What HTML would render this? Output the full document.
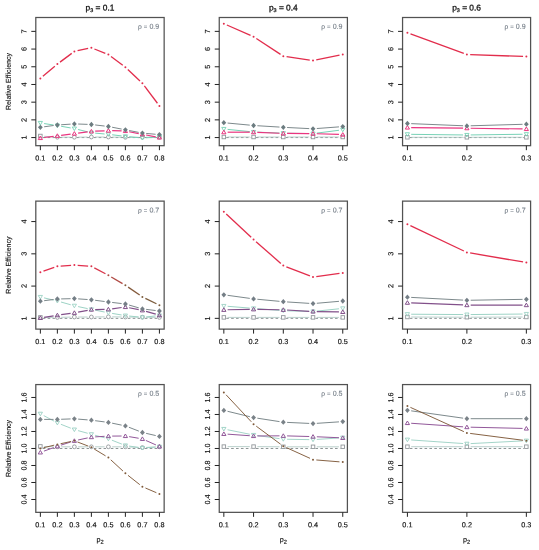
<!DOCTYPE html>
<html><head><meta charset="utf-8"><style>
html,body{margin:0;padding:0;background:#fff;}
svg{display:block;font-family:"Liberation Sans", sans-serif;will-change:transform;filter:blur(0.45px);}
text{fill:#111;stroke:#111;stroke-width:0.15px;}
text.ti{stroke-width:0.28px;}
text.yl{stroke-width:0.15px;}
text.rho{fill:#737c86;stroke:#737c86;stroke-width:0.1px;}
</style></head><body>
<svg width="539" height="550" viewBox="0 0 539 550"><rect width="539" height="550" fill="#fff"/><g><line x1="42.76" y1="137.57" x2="54.97" y2="137.57" stroke="#7f8788" stroke-width="0.9" stroke-dasharray="2.6,2.3"/><line x1="59.77" y1="137.57" x2="71.97" y2="137.57" stroke="#7f8788" stroke-width="0.9" stroke-dasharray="2.6,2.3"/><line x1="76.77" y1="137.57" x2="88.98" y2="137.57" stroke="#7f8788" stroke-width="0.9" stroke-dasharray="2.6,2.3"/><line x1="93.78" y1="137.57" x2="105.99" y2="137.57" stroke="#7f8788" stroke-width="0.9" stroke-dasharray="2.6,2.3"/><line x1="110.79" y1="137.57" x2="122.99" y2="137.57" stroke="#7f8788" stroke-width="0.9" stroke-dasharray="2.6,2.3"/><line x1="127.80" y1="137.57" x2="140.00" y2="137.57" stroke="#7f8788" stroke-width="0.9" stroke-dasharray="2.6,2.3"/><line x1="144.80" y1="137.57" x2="157.01" y2="137.57" stroke="#7f8788" stroke-width="0.9" stroke-dasharray="2.6,2.3"/><line x1="44.15" y1="136.27" x2="53.58" y2="136.93" stroke="#a8c4bf" stroke-width="0.8"/><line x1="61.17" y1="137.20" x2="70.57" y2="137.20" stroke="#a8c4bf" stroke-width="0.8"/><line x1="78.17" y1="137.16" x2="87.58" y2="137.04" stroke="#a8c4bf" stroke-width="0.8"/><line x1="95.18" y1="137.00" x2="104.59" y2="137.00" stroke="#a8c4bf" stroke-width="0.8"/><line x1="112.19" y1="137.07" x2="121.60" y2="137.23" stroke="#a8c4bf" stroke-width="0.8"/><line x1="129.19" y1="137.28" x2="138.60" y2="137.22" stroke="#a8c4bf" stroke-width="0.8"/><line x1="146.20" y1="137.20" x2="155.61" y2="137.20" stroke="#a8c4bf" stroke-width="0.8"/><rect x="38.61" y="134.25" width="3.5" height="3.5" fill="none" stroke="#92979b" stroke-width="0.9"/><circle cx="57.37" cy="137.20" r="1.9" fill="none" stroke="#92979b" stroke-width="0.9"/><circle cx="74.37" cy="137.20" r="1.9" fill="none" stroke="#92979b" stroke-width="0.9"/><circle cx="91.38" cy="137.00" r="1.9" fill="none" stroke="#92979b" stroke-width="0.9"/><circle cx="108.39" cy="137.00" r="1.9" fill="none" stroke="#92979b" stroke-width="0.9"/><circle cx="125.39" cy="137.30" r="1.9" fill="none" stroke="#92979b" stroke-width="0.9"/><circle cx="142.40" cy="137.20" r="1.9" fill="none" stroke="#92979b" stroke-width="0.9"/><circle cx="159.41" cy="137.20" r="1.9" fill="none" stroke="#92979b" stroke-width="0.9"/><line x1="44.12" y1="123.57" x2="53.61" y2="125.03" stroke="#78d2b6" stroke-width="1.0"/><line x1="61.11" y1="126.26" x2="70.63" y2="127.94" stroke="#78d2b6" stroke-width="1.0"/><line x1="78.06" y1="129.51" x2="87.69" y2="131.89" stroke="#78d2b6" stroke-width="1.0"/><line x1="95.17" y1="133.13" x2="104.60" y2="133.97" stroke="#78d2b6" stroke-width="1.0"/><line x1="112.16" y1="134.77" x2="121.62" y2="135.93" stroke="#78d2b6" stroke-width="1.0"/><line x1="129.18" y1="136.76" x2="138.62" y2="137.64" stroke="#78d2b6" stroke-width="1.0"/><line x1="146.20" y1="137.78" x2="155.62" y2="137.22" stroke="#78d2b6" stroke-width="1.0"/><path d="M38.26 121.42L42.46 121.42L40.36 125.00Z" fill="none" stroke="#78d2b6" stroke-width="0.9"/><path d="M55.27 124.02L59.47 124.02L57.37 127.59Z" fill="none" stroke="#78d2b6" stroke-width="0.9"/><path d="M72.27 127.02L76.47 127.02L74.37 130.59Z" fill="none" stroke="#78d2b6" stroke-width="0.9"/><path d="M89.28 131.23L93.48 131.23L91.38 134.80Z" fill="none" stroke="#78d2b6" stroke-width="0.9"/><path d="M106.29 132.73L110.49 132.73L108.39 136.30Z" fill="none" stroke="#78d2b6" stroke-width="0.9"/><path d="M123.30 134.83L127.49 134.83L125.39 138.40Z" fill="none" stroke="#78d2b6" stroke-width="0.9"/><path d="M140.30 136.43L144.50 136.43L142.40 140.00Z" fill="none" stroke="#78d2b6" stroke-width="0.9"/><path d="M157.31 135.43L161.51 135.43L159.41 139.00Z" fill="none" stroke="#78d2b6" stroke-width="0.9"/><line x1="44.13" y1="137.51" x2="53.60" y2="136.29" stroke="#ea3580" stroke-width="1.2"/><line x1="61.14" y1="135.31" x2="70.61" y2="134.09" stroke="#ea3580" stroke-width="1.2"/><line x1="78.14" y1="133.11" x2="87.61" y2="131.89" stroke="#ea3580" stroke-width="1.2"/><line x1="95.18" y1="131.22" x2="104.59" y2="130.78" stroke="#ea3580" stroke-width="1.2"/><line x1="112.19" y1="130.69" x2="121.60" y2="130.91" stroke="#ea3580" stroke-width="1.2"/><line x1="129.13" y1="131.72" x2="138.67" y2="133.58" stroke="#ea3580" stroke-width="1.2"/><line x1="146.14" y1="135.00" x2="155.67" y2="136.80" stroke="#ea3580" stroke-width="1.2"/><path d="M38.26 139.57L42.46 139.57L40.36 136.00Z" fill="none" stroke="#ea3580" stroke-width="1.0"/><path d="M55.27 137.38L59.47 137.38L57.37 133.81Z" fill="none" stroke="#ea3580" stroke-width="1.0"/><path d="M72.27 135.17L76.47 135.17L74.37 131.60Z" fill="none" stroke="#ea3580" stroke-width="1.0"/><path d="M89.28 132.97L93.48 132.97L91.38 129.41Z" fill="none" stroke="#ea3580" stroke-width="1.0"/><path d="M106.29 132.17L110.49 132.17L108.39 128.60Z" fill="none" stroke="#ea3580" stroke-width="1.0"/><path d="M123.30 132.57L127.49 132.57L125.39 129.00Z" fill="none" stroke="#ea3580" stroke-width="1.0"/><path d="M140.30 135.88L144.50 135.88L142.40 132.31Z" fill="none" stroke="#ea3580" stroke-width="1.0"/><path d="M157.31 139.07L161.51 139.07L159.41 135.50Z" fill="none" stroke="#ea3580" stroke-width="1.0"/><line x1="44.13" y1="126.79" x2="53.60" y2="125.51" stroke="#7d898c" stroke-width="1.0"/><line x1="61.16" y1="124.75" x2="70.58" y2="124.15" stroke="#7d898c" stroke-width="1.0"/><line x1="78.17" y1="124.03" x2="87.58" y2="124.37" stroke="#7d898c" stroke-width="1.0"/><line x1="95.15" y1="124.94" x2="104.61" y2="126.06" stroke="#7d898c" stroke-width="1.0"/><line x1="112.12" y1="127.22" x2="121.66" y2="129.08" stroke="#7d898c" stroke-width="1.0"/><line x1="129.13" y1="130.52" x2="138.67" y2="132.38" stroke="#7d898c" stroke-width="1.0"/><line x1="146.19" y1="133.43" x2="155.62" y2="134.27" stroke="#7d898c" stroke-width="1.0"/><path d="M40.36 124.65L42.76 127.30L40.36 129.95L37.96 127.30Z" fill="#6c7c80"/><path d="M57.37 122.35L59.77 125.00L57.37 127.65L54.97 125.00Z" fill="#6c7c80"/><path d="M74.37 121.25L76.77 123.90L74.37 126.55L71.97 123.90Z" fill="#6c7c80"/><path d="M91.38 121.85L93.78 124.50L91.38 127.15L88.98 124.50Z" fill="#6c7c80"/><path d="M108.39 123.85L110.79 126.50L108.39 129.15L105.99 126.50Z" fill="#6c7c80"/><path d="M125.39 127.15L127.80 129.80L125.39 132.45L122.99 129.80Z" fill="#6c7c80"/><path d="M142.40 130.45L144.80 133.10L142.40 135.75L140.00 133.10Z" fill="#6c7c80"/><path d="M159.41 131.95L161.81 134.60L159.41 137.25L157.01 134.60Z" fill="#6c7c80"/><line x1="42.89" y1="76.28" x2="54.84" y2="66.22" stroke="#e22d4c" stroke-width="1.3"/><line x1="60.01" y1="62.13" x2="71.73" y2="53.37" stroke="#e22d4c" stroke-width="1.3"/><line x1="77.60" y1="50.72" x2="88.15" y2="48.48" stroke="#e22d4c" stroke-width="1.3"/><line x1="94.45" y1="49.01" x2="105.32" y2="53.29" stroke="#e22d4c" stroke-width="1.3"/><line x1="111.02" y1="56.48" x2="122.76" y2="65.32" stroke="#e22d4c" stroke-width="1.3"/><line x1="127.81" y1="69.55" x2="139.99" y2="80.95" stroke="#e22d4c" stroke-width="1.3"/><line x1="144.38" y1="85.84" x2="157.43" y2="103.26" stroke="#e22d4c" stroke-width="1.3"/><circle cx="40.36" cy="78.40" r="1.0" fill="#e22d4c"/><circle cx="57.37" cy="64.10" r="1.0" fill="#e22d4c"/><circle cx="74.37" cy="51.40" r="1.0" fill="#e22d4c"/><circle cx="91.38" cy="47.80" r="1.0" fill="#e22d4c"/><circle cx="108.39" cy="54.50" r="1.0" fill="#e22d4c"/><circle cx="125.39" cy="67.30" r="1.0" fill="#e22d4c"/><circle cx="142.40" cy="83.20" r="1.0" fill="#e22d4c"/><circle cx="159.41" cy="105.90" r="1.0" fill="#e22d4c"/><rect x="35.8" y="17.5" width="128.35" height="128.18" fill="none" stroke="#525252" stroke-width="1.25"/><line x1="40.36" y1="145.68" x2="40.36" y2="150.18" stroke="#222" stroke-width="1.0"/><text transform="translate(40.36,160.48) rotate(0.04)" font-size="7.3" text-anchor="middle">0.1</text><line x1="57.37" y1="145.68" x2="57.37" y2="150.18" stroke="#222" stroke-width="1.0"/><text transform="translate(57.37,160.48) rotate(0.04)" font-size="7.3" text-anchor="middle">0.2</text><line x1="74.37" y1="145.68" x2="74.37" y2="150.18" stroke="#222" stroke-width="1.0"/><text transform="translate(74.37,160.48) rotate(0.04)" font-size="7.3" text-anchor="middle">0.3</text><line x1="91.38" y1="145.68" x2="91.38" y2="150.18" stroke="#222" stroke-width="1.0"/><text transform="translate(91.38,160.48) rotate(0.04)" font-size="7.3" text-anchor="middle">0.4</text><line x1="108.39" y1="145.68" x2="108.39" y2="150.18" stroke="#222" stroke-width="1.0"/><text transform="translate(108.39,160.48) rotate(0.04)" font-size="7.3" text-anchor="middle">0.5</text><line x1="125.39" y1="145.68" x2="125.39" y2="150.18" stroke="#222" stroke-width="1.0"/><text transform="translate(125.39,160.48) rotate(0.04)" font-size="7.3" text-anchor="middle">0.6</text><line x1="142.40" y1="145.68" x2="142.40" y2="150.18" stroke="#222" stroke-width="1.0"/><text transform="translate(142.40,160.48) rotate(0.04)" font-size="7.3" text-anchor="middle">0.7</text><line x1="159.41" y1="145.68" x2="159.41" y2="150.18" stroke="#222" stroke-width="1.0"/><text transform="translate(159.41,160.48) rotate(0.04)" font-size="7.3" text-anchor="middle">0.8</text><line x1="31.299999999999997" y1="137.57" x2="35.8" y2="137.57" stroke="#222" stroke-width="1.0"/><text transform="translate(26.60,137.57) rotate(-89.96)" font-size="7.3" text-anchor="middle" class="yl">1</text><line x1="31.299999999999997" y1="119.87" x2="35.8" y2="119.87" stroke="#222" stroke-width="1.0"/><text transform="translate(26.60,119.87) rotate(-89.96)" font-size="7.3" text-anchor="middle" class="yl">2</text><line x1="31.299999999999997" y1="102.17" x2="35.8" y2="102.17" stroke="#222" stroke-width="1.0"/><text transform="translate(26.60,102.17) rotate(-89.96)" font-size="7.3" text-anchor="middle" class="yl">3</text><line x1="31.299999999999997" y1="84.47" x2="35.8" y2="84.47" stroke="#222" stroke-width="1.0"/><text transform="translate(26.60,84.47) rotate(-89.96)" font-size="7.3" text-anchor="middle" class="yl">4</text><line x1="31.299999999999997" y1="66.77" x2="35.8" y2="66.77" stroke="#222" stroke-width="1.0"/><text transform="translate(26.60,66.77) rotate(-89.96)" font-size="7.3" text-anchor="middle" class="yl">5</text><line x1="31.299999999999997" y1="49.07" x2="35.8" y2="49.07" stroke="#222" stroke-width="1.0"/><text transform="translate(26.60,49.07) rotate(-89.96)" font-size="7.3" text-anchor="middle" class="yl">6</text><line x1="31.299999999999997" y1="31.37" x2="35.8" y2="31.37" stroke="#222" stroke-width="1.0"/><text transform="translate(26.60,31.37) rotate(-89.96)" font-size="7.3" text-anchor="middle" class="yl">7</text><text transform="translate(139.95,28.80) rotate(0.04)" font-size="6.6" text-anchor="middle" class="rho">ρ</text><text transform="translate(145.55,28.80) rotate(0.04)" font-size="6.0" text-anchor="middle" class="rho">=</text><text transform="translate(159.25,28.80) rotate(0.04)" font-size="7.1" text-anchor="end" class="rho">0.9</text></g><g><line x1="226.24" y1="137.57" x2="251.17" y2="137.57" stroke="#7f8788" stroke-width="0.9" stroke-dasharray="2.6,2.3"/><line x1="255.97" y1="137.57" x2="280.90" y2="137.57" stroke="#7f8788" stroke-width="0.9" stroke-dasharray="2.6,2.3"/><line x1="285.70" y1="137.57" x2="310.63" y2="137.57" stroke="#7f8788" stroke-width="0.9" stroke-dasharray="2.6,2.3"/><line x1="315.43" y1="137.57" x2="340.36" y2="137.57" stroke="#7f8788" stroke-width="0.9" stroke-dasharray="2.6,2.3"/><line x1="227.64" y1="137.00" x2="249.77" y2="137.00" stroke="#a8c4bf" stroke-width="0.8"/><line x1="257.37" y1="137.00" x2="279.50" y2="137.00" stroke="#a8c4bf" stroke-width="0.8"/><line x1="287.10" y1="137.00" x2="309.23" y2="137.00" stroke="#a8c4bf" stroke-width="0.8"/><line x1="316.83" y1="137.00" x2="338.96" y2="137.00" stroke="#a8c4bf" stroke-width="0.8"/><rect x="222.09" y="135.25" width="3.5" height="3.5" fill="none" stroke="#92979b" stroke-width="0.9"/><rect x="251.82" y="135.25" width="3.5" height="3.5" fill="none" stroke="#92979b" stroke-width="0.9"/><rect x="281.55" y="135.25" width="3.5" height="3.5" fill="none" stroke="#92979b" stroke-width="0.9"/><rect x="311.28" y="135.25" width="3.5" height="3.5" fill="none" stroke="#92979b" stroke-width="0.9"/><rect x="341.01" y="135.25" width="3.5" height="3.5" fill="none" stroke="#92979b" stroke-width="0.9"/><line x1="227.62" y1="129.38" x2="249.79" y2="131.62" stroke="#78d2b6" stroke-width="1.0"/><line x1="257.37" y1="132.15" x2="279.50" y2="133.05" stroke="#78d2b6" stroke-width="1.0"/><line x1="287.10" y1="133.25" x2="309.23" y2="133.55" stroke="#78d2b6" stroke-width="1.0"/><line x1="316.80" y1="133.12" x2="338.99" y2="130.28" stroke="#78d2b6" stroke-width="1.0"/><path d="M221.74 127.42L225.94 127.42L223.84 131.00Z" fill="none" stroke="#78d2b6" stroke-width="0.9"/><path d="M251.47 130.43L255.67 130.43L253.57 134.00Z" fill="none" stroke="#78d2b6" stroke-width="0.9"/><path d="M281.20 131.62L285.40 131.62L283.30 135.19Z" fill="none" stroke="#78d2b6" stroke-width="0.9"/><path d="M310.93 132.03L315.13 132.03L313.03 135.59Z" fill="none" stroke="#78d2b6" stroke-width="0.9"/><path d="M340.66 128.23L344.86 128.23L342.76 131.80Z" fill="none" stroke="#78d2b6" stroke-width="0.9"/><line x1="227.64" y1="132.20" x2="249.77" y2="132.20" stroke="#ea3580" stroke-width="1.2"/><line x1="257.37" y1="132.35" x2="279.50" y2="133.25" stroke="#ea3580" stroke-width="1.2"/><line x1="287.10" y1="133.43" x2="309.23" y2="133.57" stroke="#ea3580" stroke-width="1.2"/><line x1="316.83" y1="133.73" x2="338.96" y2="134.47" stroke="#ea3580" stroke-width="1.2"/><path d="M221.74 133.77L225.94 133.77L223.84 130.20Z" fill="none" stroke="#ea3580" stroke-width="1.0"/><path d="M251.47 133.77L255.67 133.77L253.57 130.20Z" fill="none" stroke="#ea3580" stroke-width="1.0"/><path d="M281.20 134.97L285.40 134.97L283.30 131.41Z" fill="none" stroke="#ea3580" stroke-width="1.0"/><path d="M310.93 135.17L315.13 135.17L313.03 131.60Z" fill="none" stroke="#ea3580" stroke-width="1.0"/><path d="M340.66 136.17L344.86 136.17L342.76 132.60Z" fill="none" stroke="#ea3580" stroke-width="1.0"/><line x1="227.62" y1="123.06" x2="249.79" y2="125.14" stroke="#7d898c" stroke-width="1.0"/><line x1="257.36" y1="125.73" x2="279.51" y2="127.07" stroke="#7d898c" stroke-width="1.0"/><line x1="287.10" y1="127.49" x2="309.23" y2="128.61" stroke="#7d898c" stroke-width="1.0"/><line x1="316.82" y1="128.52" x2="338.97" y2="126.88" stroke="#7d898c" stroke-width="1.0"/><path d="M223.84 120.05L226.24 122.70L223.84 125.35L221.44 122.70Z" fill="#6c7c80"/><path d="M253.57 122.85L255.97 125.50L253.57 128.15L251.17 125.50Z" fill="#6c7c80"/><path d="M283.30 124.65L285.70 127.30L283.30 129.95L280.90 127.30Z" fill="#6c7c80"/><path d="M313.03 126.15L315.43 128.80L313.03 131.45L310.63 128.80Z" fill="#6c7c80"/><path d="M342.76 123.95L345.16 126.60L342.76 129.25L340.36 126.60Z" fill="#6c7c80"/><line x1="226.86" y1="25.02" x2="250.55" y2="35.38" stroke="#e22d4c" stroke-width="1.3"/><line x1="256.33" y1="38.51" x2="280.54" y2="54.39" stroke="#e22d4c" stroke-width="1.3"/><line x1="286.57" y1="56.67" x2="309.76" y2="60.03" stroke="#e22d4c" stroke-width="1.3"/><line x1="316.26" y1="59.85" x2="339.53" y2="55.15" stroke="#e22d4c" stroke-width="1.3"/><circle cx="223.84" cy="23.70" r="1.0" fill="#e22d4c"/><circle cx="253.57" cy="36.70" r="1.0" fill="#e22d4c"/><circle cx="283.30" cy="56.20" r="1.0" fill="#e22d4c"/><circle cx="313.03" cy="60.50" r="1.0" fill="#e22d4c"/><circle cx="342.76" cy="54.50" r="1.0" fill="#e22d4c"/><rect x="219.25" y="17.5" width="128.15" height="128.18" fill="none" stroke="#525252" stroke-width="1.25"/><line x1="223.84" y1="145.68" x2="223.84" y2="150.18" stroke="#222" stroke-width="1.0"/><text transform="translate(223.84,160.48) rotate(0.04)" font-size="7.3" text-anchor="middle">0.1</text><line x1="253.57" y1="145.68" x2="253.57" y2="150.18" stroke="#222" stroke-width="1.0"/><text transform="translate(253.57,160.48) rotate(0.04)" font-size="7.3" text-anchor="middle">0.2</text><line x1="283.30" y1="145.68" x2="283.30" y2="150.18" stroke="#222" stroke-width="1.0"/><text transform="translate(283.30,160.48) rotate(0.04)" font-size="7.3" text-anchor="middle">0.3</text><line x1="313.03" y1="145.68" x2="313.03" y2="150.18" stroke="#222" stroke-width="1.0"/><text transform="translate(313.03,160.48) rotate(0.04)" font-size="7.3" text-anchor="middle">0.4</text><line x1="342.76" y1="145.68" x2="342.76" y2="150.18" stroke="#222" stroke-width="1.0"/><text transform="translate(342.76,160.48) rotate(0.04)" font-size="7.3" text-anchor="middle">0.5</text><line x1="214.75" y1="137.57" x2="219.25" y2="137.57" stroke="#222" stroke-width="1.0"/><text transform="translate(210.05,137.57) rotate(-89.96)" font-size="7.3" text-anchor="middle" class="yl">1</text><line x1="214.75" y1="119.87" x2="219.25" y2="119.87" stroke="#222" stroke-width="1.0"/><text transform="translate(210.05,119.87) rotate(-89.96)" font-size="7.3" text-anchor="middle" class="yl">2</text><line x1="214.75" y1="102.17" x2="219.25" y2="102.17" stroke="#222" stroke-width="1.0"/><text transform="translate(210.05,102.17) rotate(-89.96)" font-size="7.3" text-anchor="middle" class="yl">3</text><line x1="214.75" y1="84.47" x2="219.25" y2="84.47" stroke="#222" stroke-width="1.0"/><text transform="translate(210.05,84.47) rotate(-89.96)" font-size="7.3" text-anchor="middle" class="yl">4</text><line x1="214.75" y1="66.77" x2="219.25" y2="66.77" stroke="#222" stroke-width="1.0"/><text transform="translate(210.05,66.77) rotate(-89.96)" font-size="7.3" text-anchor="middle" class="yl">5</text><line x1="214.75" y1="49.07" x2="219.25" y2="49.07" stroke="#222" stroke-width="1.0"/><text transform="translate(210.05,49.07) rotate(-89.96)" font-size="7.3" text-anchor="middle" class="yl">6</text><line x1="214.75" y1="31.37" x2="219.25" y2="31.37" stroke="#222" stroke-width="1.0"/><text transform="translate(210.05,31.37) rotate(-89.96)" font-size="7.3" text-anchor="middle" class="yl">7</text><text transform="translate(323.20,28.80) rotate(0.04)" font-size="6.6" text-anchor="middle" class="rho">ρ</text><text transform="translate(328.80,28.80) rotate(0.04)" font-size="6.0" text-anchor="middle" class="rho">=</text><text transform="translate(342.50,28.80) rotate(0.04)" font-size="7.1" text-anchor="end" class="rho">0.9</text></g><g><line x1="409.81" y1="137.57" x2="464.48" y2="137.57" stroke="#7f8788" stroke-width="0.9" stroke-dasharray="2.6,2.3"/><line x1="469.28" y1="137.57" x2="523.95" y2="137.57" stroke="#7f8788" stroke-width="0.9" stroke-dasharray="2.6,2.3"/><line x1="411.21" y1="137.30" x2="463.08" y2="137.30" stroke="#a8c4bf" stroke-width="0.8"/><line x1="470.68" y1="137.30" x2="522.55" y2="137.30" stroke="#a8c4bf" stroke-width="0.8"/><rect x="405.66" y="135.55" width="3.5" height="3.5" fill="none" stroke="#92979b" stroke-width="0.9"/><rect x="465.13" y="135.55" width="3.5" height="3.5" fill="none" stroke="#92979b" stroke-width="0.9"/><rect x="524.60" y="135.55" width="3.5" height="3.5" fill="none" stroke="#92979b" stroke-width="0.9"/><line x1="411.21" y1="134.34" x2="463.08" y2="134.96" stroke="#78d2b6" stroke-width="1.0"/><line x1="470.68" y1="134.95" x2="522.55" y2="134.25" stroke="#78d2b6" stroke-width="1.0"/><path d="M405.31 132.73L409.51 132.73L407.41 136.30Z" fill="none" stroke="#78d2b6" stroke-width="0.9"/><path d="M464.78 133.43L468.98 133.43L466.88 137.00Z" fill="none" stroke="#78d2b6" stroke-width="0.9"/><path d="M524.25 132.62L528.45 132.62L526.35 136.19Z" fill="none" stroke="#78d2b6" stroke-width="0.9"/><line x1="411.21" y1="127.54" x2="463.08" y2="128.16" stroke="#ea3580" stroke-width="1.2"/><line x1="470.68" y1="128.25" x2="522.55" y2="128.95" stroke="#ea3580" stroke-width="1.2"/><path d="M405.31 129.07L409.51 129.07L407.41 125.50Z" fill="none" stroke="#ea3580" stroke-width="1.0"/><path d="M464.78 129.77L468.98 129.77L466.88 126.20Z" fill="none" stroke="#ea3580" stroke-width="1.0"/><path d="M524.25 130.57L528.45 130.57L526.35 127.00Z" fill="none" stroke="#ea3580" stroke-width="1.0"/><line x1="411.21" y1="123.65" x2="463.08" y2="125.75" stroke="#7d898c" stroke-width="1.0"/><line x1="470.68" y1="125.79" x2="522.55" y2="124.31" stroke="#7d898c" stroke-width="1.0"/><path d="M407.41 120.85L409.81 123.50L407.41 126.15L405.01 123.50Z" fill="#6c7c80"/><path d="M466.88 123.25L469.28 125.90L466.88 128.55L464.48 125.90Z" fill="#6c7c80"/><path d="M526.35 121.55L528.75 124.20L526.35 126.85L523.95 124.20Z" fill="#6c7c80"/><line x1="410.51" y1="33.94" x2="463.78" y2="53.46" stroke="#e22d4c" stroke-width="1.3"/><line x1="470.18" y1="54.71" x2="523.05" y2="56.39" stroke="#e22d4c" stroke-width="1.3"/><circle cx="407.41" cy="32.80" r="1.0" fill="#e22d4c"/><circle cx="466.88" cy="54.60" r="1.0" fill="#e22d4c"/><circle cx="526.35" cy="56.50" r="1.0" fill="#e22d4c"/><rect x="402.56" y="17.5" width="128.04" height="128.18" fill="none" stroke="#525252" stroke-width="1.25"/><line x1="407.41" y1="145.68" x2="407.41" y2="150.18" stroke="#222" stroke-width="1.0"/><text transform="translate(407.41,160.48) rotate(0.04)" font-size="7.3" text-anchor="middle">0.1</text><line x1="466.88" y1="145.68" x2="466.88" y2="150.18" stroke="#222" stroke-width="1.0"/><text transform="translate(466.88,160.48) rotate(0.04)" font-size="7.3" text-anchor="middle">0.2</text><line x1="526.35" y1="145.68" x2="526.35" y2="150.18" stroke="#222" stroke-width="1.0"/><text transform="translate(526.35,160.48) rotate(0.04)" font-size="7.3" text-anchor="middle">0.3</text><line x1="398.06" y1="137.57" x2="402.56" y2="137.57" stroke="#222" stroke-width="1.0"/><text transform="translate(393.36,137.57) rotate(-89.96)" font-size="7.3" text-anchor="middle" class="yl">1</text><line x1="398.06" y1="119.87" x2="402.56" y2="119.87" stroke="#222" stroke-width="1.0"/><text transform="translate(393.36,119.87) rotate(-89.96)" font-size="7.3" text-anchor="middle" class="yl">2</text><line x1="398.06" y1="102.17" x2="402.56" y2="102.17" stroke="#222" stroke-width="1.0"/><text transform="translate(393.36,102.17) rotate(-89.96)" font-size="7.3" text-anchor="middle" class="yl">3</text><line x1="398.06" y1="84.47" x2="402.56" y2="84.47" stroke="#222" stroke-width="1.0"/><text transform="translate(393.36,84.47) rotate(-89.96)" font-size="7.3" text-anchor="middle" class="yl">4</text><line x1="398.06" y1="66.77" x2="402.56" y2="66.77" stroke="#222" stroke-width="1.0"/><text transform="translate(393.36,66.77) rotate(-89.96)" font-size="7.3" text-anchor="middle" class="yl">5</text><line x1="398.06" y1="49.07" x2="402.56" y2="49.07" stroke="#222" stroke-width="1.0"/><text transform="translate(393.36,49.07) rotate(-89.96)" font-size="7.3" text-anchor="middle" class="yl">6</text><line x1="398.06" y1="31.37" x2="402.56" y2="31.37" stroke="#222" stroke-width="1.0"/><text transform="translate(393.36,31.37) rotate(-89.96)" font-size="7.3" text-anchor="middle" class="yl">7</text><text transform="translate(506.40,28.80) rotate(0.04)" font-size="6.6" text-anchor="middle" class="rho">ρ</text><text transform="translate(512.00,28.80) rotate(0.04)" font-size="6.0" text-anchor="middle" class="rho">=</text><text transform="translate(525.70,28.80) rotate(0.04)" font-size="7.1" text-anchor="end" class="rho">0.9</text></g><g><line x1="42.76" y1="318.35" x2="54.97" y2="318.35" stroke="#7f8788" stroke-width="0.9" stroke-dasharray="2.6,2.3"/><line x1="59.77" y1="318.35" x2="71.97" y2="318.35" stroke="#7f8788" stroke-width="0.9" stroke-dasharray="2.6,2.3"/><line x1="76.77" y1="318.35" x2="88.98" y2="318.35" stroke="#7f8788" stroke-width="0.9" stroke-dasharray="2.6,2.3"/><line x1="93.78" y1="318.35" x2="105.99" y2="318.35" stroke="#7f8788" stroke-width="0.9" stroke-dasharray="2.6,2.3"/><line x1="110.79" y1="318.35" x2="122.99" y2="318.35" stroke="#7f8788" stroke-width="0.9" stroke-dasharray="2.6,2.3"/><line x1="127.80" y1="318.35" x2="140.00" y2="318.35" stroke="#7f8788" stroke-width="0.9" stroke-dasharray="2.6,2.3"/><line x1="144.80" y1="318.35" x2="157.01" y2="318.35" stroke="#7f8788" stroke-width="0.9" stroke-dasharray="2.6,2.3"/><line x1="44.16" y1="317.40" x2="53.57" y2="317.40" stroke="#a8c4bf" stroke-width="0.8"/><line x1="61.17" y1="317.31" x2="70.58" y2="317.09" stroke="#a8c4bf" stroke-width="0.8"/><line x1="78.17" y1="317.00" x2="87.58" y2="317.00" stroke="#a8c4bf" stroke-width="0.8"/><line x1="95.18" y1="316.96" x2="104.59" y2="316.84" stroke="#a8c4bf" stroke-width="0.8"/><line x1="112.19" y1="316.84" x2="121.60" y2="316.96" stroke="#a8c4bf" stroke-width="0.8"/><line x1="129.19" y1="317.04" x2="138.60" y2="317.16" stroke="#a8c4bf" stroke-width="0.8"/><line x1="146.20" y1="317.24" x2="155.61" y2="317.36" stroke="#a8c4bf" stroke-width="0.8"/><rect x="38.61" y="315.65" width="3.5" height="3.5" fill="none" stroke="#92979b" stroke-width="0.9"/><circle cx="57.37" cy="317.40" r="1.9" fill="none" stroke="#92979b" stroke-width="0.9"/><circle cx="74.37" cy="317.00" r="1.9" fill="none" stroke="#92979b" stroke-width="0.9"/><circle cx="91.38" cy="317.00" r="1.9" fill="none" stroke="#92979b" stroke-width="0.9"/><circle cx="108.39" cy="316.80" r="1.9" fill="none" stroke="#92979b" stroke-width="0.9"/><circle cx="125.39" cy="317.00" r="1.9" fill="none" stroke="#92979b" stroke-width="0.9"/><circle cx="142.40" cy="317.20" r="1.9" fill="none" stroke="#92979b" stroke-width="0.9"/><circle cx="159.41" cy="317.40" r="1.9" fill="none" stroke="#92979b" stroke-width="0.9"/><line x1="44.06" y1="297.87" x2="53.67" y2="300.13" stroke="#9dd3c5" stroke-width="1.0"/><line x1="61.02" y1="302.03" x2="70.72" y2="304.77" stroke="#9dd3c5" stroke-width="1.0"/><line x1="78.09" y1="306.59" x2="87.66" y2="308.61" stroke="#9dd3c5" stroke-width="1.0"/><line x1="95.11" y1="310.14" x2="104.66" y2="312.06" stroke="#9dd3c5" stroke-width="1.0"/><line x1="112.14" y1="313.42" x2="121.65" y2="314.98" stroke="#9dd3c5" stroke-width="1.0"/><line x1="129.17" y1="316.00" x2="138.62" y2="317.00" stroke="#9dd3c5" stroke-width="1.0"/><line x1="146.18" y1="316.98" x2="155.63" y2="315.92" stroke="#9dd3c5" stroke-width="1.0"/><path d="M38.26 295.43L42.46 295.43L40.36 299.00Z" fill="none" stroke="#9dd3c5" stroke-width="0.9"/><path d="M55.27 299.43L59.47 299.43L57.37 303.00Z" fill="none" stroke="#9dd3c5" stroke-width="0.9"/><path d="M72.27 304.23L76.47 304.23L74.37 307.80Z" fill="none" stroke="#9dd3c5" stroke-width="0.9"/><path d="M89.28 307.82L93.48 307.82L91.38 311.39Z" fill="none" stroke="#9dd3c5" stroke-width="0.9"/><path d="M106.29 311.23L110.49 311.23L108.39 314.80Z" fill="none" stroke="#9dd3c5" stroke-width="0.9"/><path d="M123.30 314.03L127.49 314.03L125.39 317.60Z" fill="none" stroke="#9dd3c5" stroke-width="0.9"/><path d="M140.30 315.82L144.50 315.82L142.40 319.39Z" fill="none" stroke="#9dd3c5" stroke-width="0.9"/><path d="M157.31 313.93L161.51 313.93L159.41 317.50Z" fill="none" stroke="#9dd3c5" stroke-width="0.9"/><line x1="44.11" y1="317.30" x2="53.61" y2="315.80" stroke="#82508a" stroke-width="1.2"/><line x1="61.13" y1="314.67" x2="70.61" y2="313.33" stroke="#82508a" stroke-width="1.2"/><line x1="78.11" y1="312.10" x2="87.65" y2="310.30" stroke="#82508a" stroke-width="1.2"/><line x1="95.18" y1="309.53" x2="104.59" y2="309.37" stroke="#82508a" stroke-width="1.2"/><line x1="112.15" y1="308.79" x2="121.63" y2="307.51" stroke="#82508a" stroke-width="1.2"/><line x1="129.13" y1="307.72" x2="138.67" y2="309.58" stroke="#82508a" stroke-width="1.2"/><line x1="146.05" y1="311.35" x2="155.76" y2="314.15" stroke="#82508a" stroke-width="1.2"/><path d="M38.26 319.47L42.46 319.47L40.36 315.90Z" fill="none" stroke="#82508a" stroke-width="1.0"/><path d="M55.27 316.77L59.47 316.77L57.37 313.20Z" fill="none" stroke="#82508a" stroke-width="1.0"/><path d="M72.27 314.38L76.47 314.38L74.37 310.81Z" fill="none" stroke="#82508a" stroke-width="1.0"/><path d="M89.28 311.18L93.48 311.18L91.38 307.61Z" fill="none" stroke="#82508a" stroke-width="1.0"/><path d="M106.29 310.88L110.49 310.88L108.39 307.31Z" fill="none" stroke="#82508a" stroke-width="1.0"/><path d="M123.30 308.57L127.49 308.57L125.39 305.00Z" fill="none" stroke="#82508a" stroke-width="1.0"/><path d="M140.30 311.88L144.50 311.88L142.40 308.31Z" fill="none" stroke="#82508a" stroke-width="1.0"/><path d="M157.31 316.77L161.51 316.77L159.41 313.20Z" fill="none" stroke="#82508a" stroke-width="1.0"/><line x1="44.13" y1="300.71" x2="53.60" y2="299.49" stroke="#7d898c" stroke-width="1.0"/><line x1="61.17" y1="298.91" x2="70.58" y2="298.69" stroke="#7d898c" stroke-width="1.0"/><line x1="78.16" y1="298.87" x2="87.59" y2="299.53" stroke="#7d898c" stroke-width="1.0"/><line x1="95.15" y1="300.29" x2="104.62" y2="301.51" stroke="#7d898c" stroke-width="1.0"/><line x1="112.16" y1="302.44" x2="121.62" y2="303.56" stroke="#7d898c" stroke-width="1.0"/><line x1="129.05" y1="305.05" x2="138.75" y2="307.85" stroke="#7d898c" stroke-width="1.0"/><line x1="146.17" y1="309.37" x2="155.64" y2="310.53" stroke="#7d898c" stroke-width="1.0"/><path d="M40.36 298.55L42.76 301.20L40.36 303.85L37.96 301.20Z" fill="#747e86"/><path d="M57.37 296.35L59.77 299.00L57.37 301.65L54.97 299.00Z" fill="#747e86"/><path d="M74.37 295.95L76.77 298.60L74.37 301.25L71.97 298.60Z" fill="#747e86"/><path d="M91.38 297.15L93.78 299.80L91.38 302.45L88.98 299.80Z" fill="#747e86"/><path d="M108.39 299.35L110.79 302.00L108.39 304.65L105.99 302.00Z" fill="#747e86"/><path d="M125.39 301.35L127.80 304.00L125.39 306.65L122.99 304.00Z" fill="#747e86"/><path d="M142.40 306.25L144.80 308.90L142.40 311.55L140.00 308.90Z" fill="#747e86"/><path d="M159.41 308.35L161.81 311.00L159.41 313.65L157.01 311.00Z" fill="#747e86"/><line x1="43.47" y1="271.20" x2="54.25" y2="267.40" stroke="#e22d4c" stroke-width="1.3"/><line x1="60.66" y1="266.07" x2="71.08" y2="265.33" stroke="#e22d4c" stroke-width="1.3"/><line x1="77.67" y1="265.33" x2="88.09" y2="266.07" stroke="#e22d4c" stroke-width="1.3"/><line x1="94.30" y1="267.84" x2="105.47" y2="273.76" stroke="#d8354a" stroke-width="1.3"/><line x1="111.23" y1="276.97" x2="122.55" y2="283.63" stroke="#b04a44" stroke-width="1.3"/><line x1="128.12" y1="287.16" x2="139.68" y2="295.04" stroke="#845a3c" stroke-width="1.3"/><line x1="145.37" y1="298.35" x2="156.44" y2="303.75" stroke="#7c5c3c" stroke-width="1.3"/><circle cx="40.36" cy="272.30" r="1.0" fill="#e22d4c"/><circle cx="57.37" cy="266.30" r="1.0" fill="#e22d4c"/><circle cx="74.37" cy="265.10" r="1.0" fill="#e22d4c"/><circle cx="91.38" cy="266.30" r="1.0" fill="#d8354a"/><circle cx="108.39" cy="275.30" r="1.0" fill="#b04a44"/><circle cx="125.39" cy="285.30" r="1.0" fill="#845a3c"/><circle cx="142.40" cy="296.90" r="1.0" fill="#7c5c3c"/><circle cx="159.41" cy="305.20" r="1.0" fill="#7c5c3c"/><rect x="35.8" y="201.12" width="128.35" height="128.00" fill="none" stroke="#525252" stroke-width="1.25"/><line x1="40.36" y1="329.12" x2="40.36" y2="333.62" stroke="#222" stroke-width="1.0"/><text transform="translate(40.36,343.92) rotate(0.04)" font-size="7.3" text-anchor="middle">0.1</text><line x1="57.37" y1="329.12" x2="57.37" y2="333.62" stroke="#222" stroke-width="1.0"/><text transform="translate(57.37,343.92) rotate(0.04)" font-size="7.3" text-anchor="middle">0.2</text><line x1="74.37" y1="329.12" x2="74.37" y2="333.62" stroke="#222" stroke-width="1.0"/><text transform="translate(74.37,343.92) rotate(0.04)" font-size="7.3" text-anchor="middle">0.3</text><line x1="91.38" y1="329.12" x2="91.38" y2="333.62" stroke="#222" stroke-width="1.0"/><text transform="translate(91.38,343.92) rotate(0.04)" font-size="7.3" text-anchor="middle">0.4</text><line x1="108.39" y1="329.12" x2="108.39" y2="333.62" stroke="#222" stroke-width="1.0"/><text transform="translate(108.39,343.92) rotate(0.04)" font-size="7.3" text-anchor="middle">0.5</text><line x1="125.39" y1="329.12" x2="125.39" y2="333.62" stroke="#222" stroke-width="1.0"/><text transform="translate(125.39,343.92) rotate(0.04)" font-size="7.3" text-anchor="middle">0.6</text><line x1="142.40" y1="329.12" x2="142.40" y2="333.62" stroke="#222" stroke-width="1.0"/><text transform="translate(142.40,343.92) rotate(0.04)" font-size="7.3" text-anchor="middle">0.7</text><line x1="159.41" y1="329.12" x2="159.41" y2="333.62" stroke="#222" stroke-width="1.0"/><text transform="translate(159.41,343.92) rotate(0.04)" font-size="7.3" text-anchor="middle">0.8</text><line x1="31.299999999999997" y1="318.35" x2="35.8" y2="318.35" stroke="#222" stroke-width="1.0"/><text transform="translate(26.60,318.35) rotate(-89.96)" font-size="7.3" text-anchor="middle" class="yl">1</text><line x1="31.299999999999997" y1="286.09" x2="35.8" y2="286.09" stroke="#222" stroke-width="1.0"/><text transform="translate(26.60,286.09) rotate(-89.96)" font-size="7.3" text-anchor="middle" class="yl">2</text><line x1="31.299999999999997" y1="253.83" x2="35.8" y2="253.83" stroke="#222" stroke-width="1.0"/><text transform="translate(26.60,253.83) rotate(-89.96)" font-size="7.3" text-anchor="middle" class="yl">3</text><line x1="31.299999999999997" y1="221.57" x2="35.8" y2="221.57" stroke="#222" stroke-width="1.0"/><text transform="translate(26.60,221.57) rotate(-89.96)" font-size="7.3" text-anchor="middle" class="yl">4</text><text transform="translate(139.95,212.42) rotate(0.04)" font-size="6.6" text-anchor="middle" class="rho">ρ</text><text transform="translate(145.55,212.42) rotate(0.04)" font-size="6.0" text-anchor="middle" class="rho">=</text><text transform="translate(159.25,212.42) rotate(0.04)" font-size="7.1" text-anchor="end" class="rho">0.7</text></g><g><line x1="226.24" y1="318.35" x2="251.17" y2="318.35" stroke="#7f8788" stroke-width="0.9" stroke-dasharray="2.6,2.3"/><line x1="255.97" y1="318.35" x2="280.90" y2="318.35" stroke="#7f8788" stroke-width="0.9" stroke-dasharray="2.6,2.3"/><line x1="285.70" y1="318.35" x2="310.63" y2="318.35" stroke="#7f8788" stroke-width="0.9" stroke-dasharray="2.6,2.3"/><line x1="315.43" y1="318.35" x2="340.36" y2="318.35" stroke="#7f8788" stroke-width="0.9" stroke-dasharray="2.6,2.3"/><line x1="227.64" y1="317.40" x2="249.77" y2="317.40" stroke="#a8c4bf" stroke-width="0.8"/><line x1="257.37" y1="317.40" x2="279.50" y2="317.40" stroke="#a8c4bf" stroke-width="0.8"/><line x1="287.10" y1="317.40" x2="309.23" y2="317.40" stroke="#a8c4bf" stroke-width="0.8"/><line x1="316.83" y1="317.40" x2="338.96" y2="317.40" stroke="#a8c4bf" stroke-width="0.8"/><rect x="222.09" y="315.65" width="3.5" height="3.5" fill="none" stroke="#92979b" stroke-width="0.9"/><rect x="251.82" y="315.65" width="3.5" height="3.5" fill="none" stroke="#92979b" stroke-width="0.9"/><rect x="281.55" y="315.65" width="3.5" height="3.5" fill="none" stroke="#92979b" stroke-width="0.9"/><rect x="311.28" y="315.65" width="3.5" height="3.5" fill="none" stroke="#92979b" stroke-width="0.9"/><rect x="341.01" y="315.65" width="3.5" height="3.5" fill="none" stroke="#92979b" stroke-width="0.9"/><line x1="227.63" y1="306.31" x2="249.78" y2="308.09" stroke="#9dd3c5" stroke-width="1.0"/><line x1="257.36" y1="308.69" x2="279.51" y2="310.41" stroke="#9dd3c5" stroke-width="1.0"/><line x1="287.10" y1="310.80" x2="309.23" y2="311.40" stroke="#9dd3c5" stroke-width="1.0"/><line x1="316.81" y1="311.11" x2="338.98" y2="308.79" stroke="#9dd3c5" stroke-width="1.0"/><path d="M221.74 304.43L225.94 304.43L223.84 308.00Z" fill="none" stroke="#9dd3c5" stroke-width="0.9"/><path d="M251.47 306.82L255.67 306.82L253.57 310.39Z" fill="none" stroke="#9dd3c5" stroke-width="0.9"/><path d="M281.20 309.12L285.40 309.12L283.30 312.69Z" fill="none" stroke="#9dd3c5" stroke-width="0.9"/><path d="M310.93 309.93L315.13 309.93L313.03 313.50Z" fill="none" stroke="#9dd3c5" stroke-width="0.9"/><path d="M340.66 306.82L344.86 306.82L342.76 310.39Z" fill="none" stroke="#9dd3c5" stroke-width="0.9"/><line x1="227.64" y1="309.74" x2="249.77" y2="309.36" stroke="#82508a" stroke-width="1.2"/><line x1="257.37" y1="309.36" x2="279.50" y2="309.74" stroke="#82508a" stroke-width="1.2"/><line x1="287.09" y1="310.02" x2="309.24" y2="311.28" stroke="#82508a" stroke-width="1.2"/><line x1="316.83" y1="311.55" x2="338.96" y2="311.85" stroke="#82508a" stroke-width="1.2"/><path d="M221.74 311.38L225.94 311.38L223.84 307.81Z" fill="none" stroke="#82508a" stroke-width="1.0"/><path d="M251.47 310.88L255.67 310.88L253.57 307.31Z" fill="none" stroke="#82508a" stroke-width="1.0"/><path d="M281.20 311.38L285.40 311.38L283.30 307.81Z" fill="none" stroke="#82508a" stroke-width="1.0"/><path d="M310.93 313.07L315.13 313.07L313.03 309.50Z" fill="none" stroke="#82508a" stroke-width="1.0"/><path d="M340.66 313.47L344.86 313.47L342.76 309.90Z" fill="none" stroke="#82508a" stroke-width="1.0"/><line x1="227.60" y1="295.32" x2="249.81" y2="298.38" stroke="#7d898c" stroke-width="1.0"/><line x1="257.35" y1="299.26" x2="279.52" y2="301.34" stroke="#7d898c" stroke-width="1.0"/><line x1="287.09" y1="301.94" x2="309.24" y2="303.36" stroke="#7d898c" stroke-width="1.0"/><line x1="316.82" y1="303.27" x2="338.97" y2="301.33" stroke="#7d898c" stroke-width="1.0"/><path d="M223.84 292.15L226.24 294.80L223.84 297.45L221.44 294.80Z" fill="#747e86"/><path d="M253.57 296.25L255.97 298.90L253.57 301.55L251.17 298.90Z" fill="#747e86"/><path d="M283.30 299.05L285.70 301.70L283.30 304.35L280.90 301.70Z" fill="#747e86"/><path d="M313.03 300.95L315.43 303.60L313.03 306.25L310.63 303.60Z" fill="#747e86"/><path d="M342.76 298.35L345.16 301.00L342.76 303.65L340.36 301.00Z" fill="#747e86"/><line x1="226.25" y1="213.95" x2="251.16" y2="237.25" stroke="#e22d4c" stroke-width="1.3"/><line x1="256.05" y1="241.68" x2="280.82" y2="263.42" stroke="#e22d4c" stroke-width="1.3"/><line x1="286.38" y1="266.78" x2="309.95" y2="275.82" stroke="#e22d4c" stroke-width="1.3"/><line x1="316.30" y1="276.56" x2="339.49" y2="273.44" stroke="#e22d4c" stroke-width="1.3"/><circle cx="223.84" cy="211.70" r="1.0" fill="#e22d4c"/><circle cx="253.57" cy="239.50" r="1.0" fill="#e22d4c"/><circle cx="283.30" cy="265.60" r="1.0" fill="#e22d4c"/><circle cx="313.03" cy="277.00" r="1.0" fill="#e22d4c"/><circle cx="342.76" cy="273.00" r="1.0" fill="#e22d4c"/><rect x="219.25" y="201.12" width="128.15" height="128.00" fill="none" stroke="#525252" stroke-width="1.25"/><line x1="223.84" y1="329.12" x2="223.84" y2="333.62" stroke="#222" stroke-width="1.0"/><text transform="translate(223.84,343.92) rotate(0.04)" font-size="7.3" text-anchor="middle">0.1</text><line x1="253.57" y1="329.12" x2="253.57" y2="333.62" stroke="#222" stroke-width="1.0"/><text transform="translate(253.57,343.92) rotate(0.04)" font-size="7.3" text-anchor="middle">0.2</text><line x1="283.30" y1="329.12" x2="283.30" y2="333.62" stroke="#222" stroke-width="1.0"/><text transform="translate(283.30,343.92) rotate(0.04)" font-size="7.3" text-anchor="middle">0.3</text><line x1="313.03" y1="329.12" x2="313.03" y2="333.62" stroke="#222" stroke-width="1.0"/><text transform="translate(313.03,343.92) rotate(0.04)" font-size="7.3" text-anchor="middle">0.4</text><line x1="342.76" y1="329.12" x2="342.76" y2="333.62" stroke="#222" stroke-width="1.0"/><text transform="translate(342.76,343.92) rotate(0.04)" font-size="7.3" text-anchor="middle">0.5</text><line x1="214.75" y1="318.35" x2="219.25" y2="318.35" stroke="#222" stroke-width="1.0"/><text transform="translate(210.05,318.35) rotate(-89.96)" font-size="7.3" text-anchor="middle" class="yl">1</text><line x1="214.75" y1="286.09" x2="219.25" y2="286.09" stroke="#222" stroke-width="1.0"/><text transform="translate(210.05,286.09) rotate(-89.96)" font-size="7.3" text-anchor="middle" class="yl">2</text><line x1="214.75" y1="253.83" x2="219.25" y2="253.83" stroke="#222" stroke-width="1.0"/><text transform="translate(210.05,253.83) rotate(-89.96)" font-size="7.3" text-anchor="middle" class="yl">3</text><line x1="214.75" y1="221.57" x2="219.25" y2="221.57" stroke="#222" stroke-width="1.0"/><text transform="translate(210.05,221.57) rotate(-89.96)" font-size="7.3" text-anchor="middle" class="yl">4</text><text transform="translate(323.20,212.42) rotate(0.04)" font-size="6.6" text-anchor="middle" class="rho">ρ</text><text transform="translate(328.80,212.42) rotate(0.04)" font-size="6.0" text-anchor="middle" class="rho">=</text><text transform="translate(342.50,212.42) rotate(0.04)" font-size="7.1" text-anchor="end" class="rho">0.7</text></g><g><line x1="409.81" y1="318.35" x2="464.48" y2="318.35" stroke="#7f8788" stroke-width="0.9" stroke-dasharray="2.6,2.3"/><line x1="469.28" y1="318.35" x2="523.95" y2="318.35" stroke="#7f8788" stroke-width="0.9" stroke-dasharray="2.6,2.3"/><line x1="411.21" y1="317.01" x2="463.08" y2="317.19" stroke="#a8c4bf" stroke-width="0.8"/><line x1="470.68" y1="317.19" x2="522.55" y2="317.01" stroke="#a8c4bf" stroke-width="0.8"/><rect x="405.66" y="315.25" width="3.5" height="3.5" fill="none" stroke="#92979b" stroke-width="0.9"/><rect x="465.13" y="315.45" width="3.5" height="3.5" fill="none" stroke="#92979b" stroke-width="0.9"/><rect x="524.60" y="315.25" width="3.5" height="3.5" fill="none" stroke="#92979b" stroke-width="0.9"/><line x1="411.21" y1="314.23" x2="463.08" y2="314.57" stroke="#9dd3c5" stroke-width="1.0"/><line x1="470.68" y1="314.56" x2="522.55" y2="314.04" stroke="#9dd3c5" stroke-width="1.0"/><path d="M405.31 312.62L409.51 312.62L407.41 316.19Z" fill="none" stroke="#9dd3c5" stroke-width="0.9"/><path d="M464.78 313.03L468.98 313.03L466.88 316.60Z" fill="none" stroke="#9dd3c5" stroke-width="0.9"/><path d="M524.25 312.43L528.45 312.43L526.35 316.00Z" fill="none" stroke="#9dd3c5" stroke-width="0.9"/><line x1="411.21" y1="302.85" x2="463.08" y2="304.95" stroke="#82508a" stroke-width="1.2"/><line x1="470.68" y1="305.10" x2="522.55" y2="305.10" stroke="#82508a" stroke-width="1.2"/><path d="M405.31 304.27L409.51 304.27L407.41 300.70Z" fill="none" stroke="#82508a" stroke-width="1.0"/><path d="M464.78 306.68L468.98 306.68L466.88 303.11Z" fill="none" stroke="#82508a" stroke-width="1.0"/><path d="M524.25 306.68L528.45 306.68L526.35 303.11Z" fill="none" stroke="#82508a" stroke-width="1.0"/><line x1="411.20" y1="297.40" x2="463.09" y2="300.10" stroke="#7d898c" stroke-width="1.0"/><line x1="470.68" y1="300.24" x2="522.55" y2="299.36" stroke="#7d898c" stroke-width="1.0"/><path d="M407.41 294.55L409.81 297.20L407.41 299.85L405.01 297.20Z" fill="#747e86"/><path d="M466.88 297.65L469.28 300.30L466.88 302.95L464.48 300.30Z" fill="#747e86"/><path d="M526.35 296.65L528.75 299.30L526.35 301.95L523.95 299.30Z" fill="#747e86"/><line x1="410.39" y1="225.61" x2="463.90" y2="250.99" stroke="#e22d4c" stroke-width="1.3"/><line x1="470.13" y1="252.95" x2="523.10" y2="261.95" stroke="#e22d4c" stroke-width="1.3"/><circle cx="407.41" cy="224.20" r="1.0" fill="#e22d4c"/><circle cx="466.88" cy="252.40" r="1.0" fill="#e22d4c"/><circle cx="526.35" cy="262.50" r="1.0" fill="#e22d4c"/><rect x="402.56" y="201.12" width="128.04" height="128.00" fill="none" stroke="#525252" stroke-width="1.25"/><line x1="407.41" y1="329.12" x2="407.41" y2="333.62" stroke="#222" stroke-width="1.0"/><text transform="translate(407.41,343.92) rotate(0.04)" font-size="7.3" text-anchor="middle">0.1</text><line x1="466.88" y1="329.12" x2="466.88" y2="333.62" stroke="#222" stroke-width="1.0"/><text transform="translate(466.88,343.92) rotate(0.04)" font-size="7.3" text-anchor="middle">0.2</text><line x1="526.35" y1="329.12" x2="526.35" y2="333.62" stroke="#222" stroke-width="1.0"/><text transform="translate(526.35,343.92) rotate(0.04)" font-size="7.3" text-anchor="middle">0.3</text><line x1="398.06" y1="318.35" x2="402.56" y2="318.35" stroke="#222" stroke-width="1.0"/><text transform="translate(393.36,318.35) rotate(-89.96)" font-size="7.3" text-anchor="middle" class="yl">1</text><line x1="398.06" y1="286.09" x2="402.56" y2="286.09" stroke="#222" stroke-width="1.0"/><text transform="translate(393.36,286.09) rotate(-89.96)" font-size="7.3" text-anchor="middle" class="yl">2</text><line x1="398.06" y1="253.83" x2="402.56" y2="253.83" stroke="#222" stroke-width="1.0"/><text transform="translate(393.36,253.83) rotate(-89.96)" font-size="7.3" text-anchor="middle" class="yl">3</text><line x1="398.06" y1="221.57" x2="402.56" y2="221.57" stroke="#222" stroke-width="1.0"/><text transform="translate(393.36,221.57) rotate(-89.96)" font-size="7.3" text-anchor="middle" class="yl">4</text><text transform="translate(506.40,212.42) rotate(0.04)" font-size="6.6" text-anchor="middle" class="rho">ρ</text><text transform="translate(512.00,212.42) rotate(0.04)" font-size="6.0" text-anchor="middle" class="rho">=</text><text transform="translate(525.70,212.42) rotate(0.04)" font-size="7.1" text-anchor="end" class="rho">0.7</text></g><g><line x1="42.76" y1="448.48" x2="54.97" y2="448.48" stroke="#7f8788" stroke-width="0.9" stroke-dasharray="2.6,2.3"/><line x1="59.77" y1="448.48" x2="71.97" y2="448.48" stroke="#7f8788" stroke-width="0.9" stroke-dasharray="2.6,2.3"/><line x1="76.77" y1="448.48" x2="88.98" y2="448.48" stroke="#7f8788" stroke-width="0.9" stroke-dasharray="2.6,2.3"/><line x1="93.78" y1="448.48" x2="105.99" y2="448.48" stroke="#7f8788" stroke-width="0.9" stroke-dasharray="2.6,2.3"/><line x1="110.79" y1="448.48" x2="122.99" y2="448.48" stroke="#7f8788" stroke-width="0.9" stroke-dasharray="2.6,2.3"/><line x1="127.80" y1="448.48" x2="140.00" y2="448.48" stroke="#7f8788" stroke-width="0.9" stroke-dasharray="2.6,2.3"/><line x1="144.80" y1="448.48" x2="157.01" y2="448.48" stroke="#7f8788" stroke-width="0.9" stroke-dasharray="2.6,2.3"/><line x1="44.16" y1="446.49" x2="53.57" y2="446.71" stroke="#a8c4bf" stroke-width="0.8"/><line x1="61.17" y1="446.80" x2="70.57" y2="446.80" stroke="#a8c4bf" stroke-width="0.8"/><line x1="78.17" y1="446.80" x2="87.58" y2="446.80" stroke="#a8c4bf" stroke-width="0.8"/><line x1="95.18" y1="446.80" x2="104.59" y2="446.80" stroke="#a8c4bf" stroke-width="0.8"/><line x1="112.19" y1="446.80" x2="121.59" y2="446.80" stroke="#a8c4bf" stroke-width="0.8"/><line x1="129.19" y1="446.98" x2="138.61" y2="447.42" stroke="#a8c4bf" stroke-width="0.8"/><line x1="146.20" y1="447.42" x2="155.61" y2="446.98" stroke="#a8c4bf" stroke-width="0.8"/><rect x="38.61" y="444.65" width="3.5" height="3.5" fill="none" stroke="#92979b" stroke-width="0.9"/><circle cx="57.37" cy="446.80" r="1.9" fill="none" stroke="#92979b" stroke-width="0.9"/><circle cx="74.37" cy="446.80" r="1.9" fill="none" stroke="#92979b" stroke-width="0.9"/><circle cx="91.38" cy="446.80" r="1.9" fill="none" stroke="#92979b" stroke-width="0.9"/><circle cx="108.39" cy="446.80" r="1.9" fill="none" stroke="#92979b" stroke-width="0.9"/><circle cx="125.39" cy="446.80" r="1.9" fill="none" stroke="#92979b" stroke-width="0.9"/><circle cx="142.40" cy="447.60" r="1.9" fill="none" stroke="#92979b" stroke-width="0.9"/><circle cx="159.41" cy="446.80" r="1.9" fill="none" stroke="#92979b" stroke-width="0.9"/><line x1="43.71" y1="415.59" x2="54.02" y2="421.11" stroke="#98cfc2" stroke-width="0.9"/><line x1="60.90" y1="424.29" x2="70.84" y2="428.21" stroke="#98cfc2" stroke-width="0.9"/><line x1="78.04" y1="430.61" x2="87.72" y2="433.29" stroke="#98cfc2" stroke-width="0.9"/><line x1="95.05" y1="435.27" x2="104.71" y2="437.83" stroke="#98cfc2" stroke-width="0.9"/><line x1="111.92" y1="440.19" x2="121.86" y2="444.11" stroke="#98cfc2" stroke-width="0.9"/><line x1="129.15" y1="446.05" x2="138.64" y2="447.45" stroke="#98cfc2" stroke-width="0.9"/><line x1="146.19" y1="447.73" x2="155.62" y2="447.07" stroke="#98cfc2" stroke-width="0.9"/><path d="M38.26 412.23L42.46 412.23L40.36 415.80Z" fill="none" stroke="#98cfc2" stroke-width="0.9"/><path d="M55.27 421.32L59.47 421.32L57.37 424.89Z" fill="none" stroke="#98cfc2" stroke-width="0.9"/><path d="M72.27 428.03L76.47 428.03L74.37 431.60Z" fill="none" stroke="#98cfc2" stroke-width="0.9"/><path d="M89.28 432.73L93.48 432.73L91.38 436.30Z" fill="none" stroke="#98cfc2" stroke-width="0.9"/><path d="M106.29 437.23L110.49 437.23L108.39 440.80Z" fill="none" stroke="#98cfc2" stroke-width="0.9"/><path d="M123.30 443.93L127.49 443.93L125.39 447.50Z" fill="none" stroke="#98cfc2" stroke-width="0.9"/><path d="M140.30 446.43L144.50 446.43L142.40 450.00Z" fill="none" stroke="#98cfc2" stroke-width="0.9"/><path d="M157.31 445.23L161.51 445.23L159.41 448.80Z" fill="none" stroke="#98cfc2" stroke-width="0.9"/><line x1="43.94" y1="451.12" x2="53.79" y2="447.58" stroke="#92589a" stroke-width="1.0"/><line x1="60.98" y1="445.13" x2="70.76" y2="441.97" stroke="#92589a" stroke-width="1.0"/><line x1="78.09" y1="439.99" x2="87.67" y2="437.91" stroke="#92589a" stroke-width="1.0"/><line x1="95.17" y1="436.88" x2="104.59" y2="436.32" stroke="#92589a" stroke-width="1.0"/><line x1="112.19" y1="436.08" x2="121.60" y2="436.02" stroke="#92589a" stroke-width="1.0"/><line x1="129.14" y1="436.64" x2="138.66" y2="438.26" stroke="#92589a" stroke-width="1.0"/><line x1="145.87" y1="440.45" x2="155.94" y2="444.95" stroke="#92589a" stroke-width="1.0"/><path d="M38.26 453.97L42.46 453.97L40.36 450.40Z" fill="none" stroke="#92589a" stroke-width="1.0"/><path d="M55.27 447.88L59.47 447.88L57.37 444.31Z" fill="none" stroke="#92589a" stroke-width="1.0"/><path d="M72.27 442.38L76.47 442.38L74.37 438.81Z" fill="none" stroke="#92589a" stroke-width="1.0"/><path d="M89.28 438.68L93.48 438.68L91.38 435.11Z" fill="none" stroke="#92589a" stroke-width="1.0"/><path d="M106.29 437.68L110.49 437.68L108.39 434.11Z" fill="none" stroke="#92589a" stroke-width="1.0"/><path d="M123.30 437.57L127.49 437.57L125.39 434.00Z" fill="none" stroke="#92589a" stroke-width="1.0"/><path d="M140.30 440.47L144.50 440.47L142.40 436.90Z" fill="none" stroke="#92589a" stroke-width="1.0"/><path d="M157.31 448.07L161.51 448.07L159.41 444.50Z" fill="none" stroke="#92589a" stroke-width="1.0"/><line x1="44.16" y1="419.40" x2="53.57" y2="419.40" stroke="#7d898c" stroke-width="1.0"/><line x1="61.16" y1="419.27" x2="70.58" y2="418.93" stroke="#7d898c" stroke-width="1.0"/><line x1="78.16" y1="419.11" x2="87.59" y2="419.89" stroke="#7d898c" stroke-width="1.0"/><line x1="95.15" y1="420.69" x2="104.62" y2="421.91" stroke="#7d898c" stroke-width="1.0"/><line x1="112.11" y1="423.17" x2="121.67" y2="425.13" stroke="#7d898c" stroke-width="1.0"/><line x1="128.94" y1="427.27" x2="138.86" y2="431.13" stroke="#7d898c" stroke-width="1.0"/><line x1="146.11" y1="433.35" x2="155.71" y2="435.55" stroke="#7d898c" stroke-width="1.0"/><path d="M40.36 416.75L42.76 419.40L40.36 422.05L37.96 419.40Z" fill="#7a8288"/><path d="M57.37 416.75L59.77 419.40L57.37 422.05L54.97 419.40Z" fill="#7a8288"/><path d="M74.37 416.15L76.77 418.80L74.37 421.45L71.97 418.80Z" fill="#7a8288"/><path d="M91.38 417.55L93.78 420.20L91.38 422.85L88.98 420.20Z" fill="#7a8288"/><path d="M108.39 419.75L110.79 422.40L108.39 425.05L105.99 422.40Z" fill="#7a8288"/><path d="M125.39 423.25L127.80 425.90L125.39 428.55L122.99 425.90Z" fill="#7a8288"/><path d="M142.40 429.85L144.80 432.50L142.40 435.15L140.00 432.50Z" fill="#7a8288"/><path d="M159.41 433.75L161.81 436.40L159.41 439.05L157.01 436.40Z" fill="#7a8288"/><line x1="43.57" y1="447.73" x2="54.16" y2="445.17" stroke="#7f5a3a" stroke-width="0.95"/><line x1="60.60" y1="443.72" x2="71.15" y2="441.48" stroke="#7f5a3a" stroke-width="0.95"/><line x1="77.46" y1="441.98" x2="88.30" y2="446.12" stroke="#7f5a3a" stroke-width="0.95"/><line x1="94.20" y1="449.01" x2="105.57" y2="455.89" stroke="#7f5a3a" stroke-width="0.95"/><line x1="110.81" y1="459.84" x2="122.97" y2="471.06" stroke="#7f5a3a" stroke-width="0.95"/><line x1="127.99" y1="475.34" x2="139.81" y2="484.66" stroke="#7f5a3a" stroke-width="0.95"/><line x1="145.43" y1="488.00" x2="156.38" y2="492.70" stroke="#7f5a3a" stroke-width="0.95"/><circle cx="40.36" cy="448.50" r="1.0" fill="#7f5a3a"/><circle cx="57.37" cy="444.40" r="1.0" fill="#7f5a3a"/><circle cx="74.37" cy="440.80" r="1.0" fill="#7f5a3a"/><circle cx="91.38" cy="447.30" r="1.0" fill="#7f5a3a"/><circle cx="108.39" cy="457.60" r="1.0" fill="#7f5a3a"/><circle cx="125.39" cy="473.30" r="1.0" fill="#7f5a3a"/><circle cx="142.40" cy="486.70" r="1.0" fill="#7f5a3a"/><circle cx="159.41" cy="494.00" r="1.0" fill="#7f5a3a"/><rect x="35.8" y="384.57" width="128.35" height="127.78" fill="none" stroke="#525252" stroke-width="1.25"/><line x1="40.36" y1="512.35" x2="40.36" y2="516.85" stroke="#222" stroke-width="1.0"/><text transform="translate(40.36,527.15) rotate(0.04)" font-size="7.3" text-anchor="middle">0.1</text><line x1="57.37" y1="512.35" x2="57.37" y2="516.85" stroke="#222" stroke-width="1.0"/><text transform="translate(57.37,527.15) rotate(0.04)" font-size="7.3" text-anchor="middle">0.2</text><line x1="74.37" y1="512.35" x2="74.37" y2="516.85" stroke="#222" stroke-width="1.0"/><text transform="translate(74.37,527.15) rotate(0.04)" font-size="7.3" text-anchor="middle">0.3</text><line x1="91.38" y1="512.35" x2="91.38" y2="516.85" stroke="#222" stroke-width="1.0"/><text transform="translate(91.38,527.15) rotate(0.04)" font-size="7.3" text-anchor="middle">0.4</text><line x1="108.39" y1="512.35" x2="108.39" y2="516.85" stroke="#222" stroke-width="1.0"/><text transform="translate(108.39,527.15) rotate(0.04)" font-size="7.3" text-anchor="middle">0.5</text><line x1="125.39" y1="512.35" x2="125.39" y2="516.85" stroke="#222" stroke-width="1.0"/><text transform="translate(125.39,527.15) rotate(0.04)" font-size="7.3" text-anchor="middle">0.6</text><line x1="142.40" y1="512.35" x2="142.40" y2="516.85" stroke="#222" stroke-width="1.0"/><text transform="translate(142.40,527.15) rotate(0.04)" font-size="7.3" text-anchor="middle">0.7</text><line x1="159.41" y1="512.35" x2="159.41" y2="516.85" stroke="#222" stroke-width="1.0"/><text transform="translate(159.41,527.15) rotate(0.04)" font-size="7.3" text-anchor="middle">0.8</text><line x1="31.299999999999997" y1="499.50" x2="35.8" y2="499.50" stroke="#222" stroke-width="1.0"/><text transform="translate(26.60,499.50) rotate(-89.96)" font-size="7.3" text-anchor="middle" class="yl">0.4</text><line x1="31.299999999999997" y1="482.49" x2="35.8" y2="482.49" stroke="#222" stroke-width="1.0"/><text transform="translate(26.60,482.49) rotate(-89.96)" font-size="7.3" text-anchor="middle" class="yl">0.6</text><line x1="31.299999999999997" y1="465.49" x2="35.8" y2="465.49" stroke="#222" stroke-width="1.0"/><text transform="translate(26.60,465.49) rotate(-89.96)" font-size="7.3" text-anchor="middle" class="yl">0.8</text><line x1="31.299999999999997" y1="448.48" x2="35.8" y2="448.48" stroke="#222" stroke-width="1.0"/><text transform="translate(26.60,448.48) rotate(-89.96)" font-size="7.3" text-anchor="middle" class="yl">1.0</text><line x1="31.299999999999997" y1="431.47" x2="35.8" y2="431.47" stroke="#222" stroke-width="1.0"/><text transform="translate(26.60,431.47) rotate(-89.96)" font-size="7.3" text-anchor="middle" class="yl">1.2</text><line x1="31.299999999999997" y1="414.47" x2="35.8" y2="414.47" stroke="#222" stroke-width="1.0"/><text transform="translate(26.60,414.47) rotate(-89.96)" font-size="7.3" text-anchor="middle" class="yl">1.4</text><line x1="31.299999999999997" y1="397.46" x2="35.8" y2="397.46" stroke="#222" stroke-width="1.0"/><text transform="translate(26.60,397.46) rotate(-89.96)" font-size="7.3" text-anchor="middle" class="yl">1.6</text><text transform="translate(139.95,395.87) rotate(0.04)" font-size="6.6" text-anchor="middle" class="rho">ρ</text><text transform="translate(145.55,395.87) rotate(0.04)" font-size="6.0" text-anchor="middle" class="rho">=</text><text transform="translate(159.25,395.87) rotate(0.04)" font-size="7.1" text-anchor="end" class="rho">0.5</text></g><g><line x1="226.24" y1="448.48" x2="251.17" y2="448.48" stroke="#7f8788" stroke-width="0.9" stroke-dasharray="2.6,2.3"/><line x1="255.97" y1="448.48" x2="280.90" y2="448.48" stroke="#7f8788" stroke-width="0.9" stroke-dasharray="2.6,2.3"/><line x1="285.70" y1="448.48" x2="310.63" y2="448.48" stroke="#7f8788" stroke-width="0.9" stroke-dasharray="2.6,2.3"/><line x1="315.43" y1="448.48" x2="340.36" y2="448.48" stroke="#7f8788" stroke-width="0.9" stroke-dasharray="2.6,2.3"/><line x1="227.64" y1="446.60" x2="249.77" y2="446.60" stroke="#a8c4bf" stroke-width="0.8"/><line x1="257.37" y1="446.63" x2="279.50" y2="446.77" stroke="#a8c4bf" stroke-width="0.8"/><line x1="287.10" y1="446.80" x2="309.23" y2="446.80" stroke="#a8c4bf" stroke-width="0.8"/><line x1="316.83" y1="446.80" x2="338.96" y2="446.80" stroke="#a8c4bf" stroke-width="0.8"/><rect x="222.09" y="444.85" width="3.5" height="3.5" fill="none" stroke="#92979b" stroke-width="0.9"/><rect x="251.82" y="444.85" width="3.5" height="3.5" fill="none" stroke="#92979b" stroke-width="0.9"/><rect x="281.55" y="445.05" width="3.5" height="3.5" fill="none" stroke="#92979b" stroke-width="0.9"/><rect x="311.28" y="445.05" width="3.5" height="3.5" fill="none" stroke="#92979b" stroke-width="0.9"/><rect x="341.01" y="445.05" width="3.5" height="3.5" fill="none" stroke="#92979b" stroke-width="0.9"/><line x1="227.56" y1="429.75" x2="249.85" y2="434.25" stroke="#98cfc2" stroke-width="0.9"/><line x1="257.33" y1="435.53" x2="279.54" y2="438.67" stroke="#98cfc2" stroke-width="0.9"/><line x1="287.10" y1="439.26" x2="309.23" y2="439.64" stroke="#98cfc2" stroke-width="0.9"/><line x1="316.82" y1="439.44" x2="338.97" y2="437.96" stroke="#98cfc2" stroke-width="0.9"/><path d="M221.74 427.43L225.94 427.43L223.84 431.00Z" fill="none" stroke="#98cfc2" stroke-width="0.9"/><path d="M251.47 433.43L255.67 433.43L253.57 437.00Z" fill="none" stroke="#98cfc2" stroke-width="0.9"/><path d="M281.20 437.62L285.40 437.62L283.30 441.19Z" fill="none" stroke="#98cfc2" stroke-width="0.9"/><path d="M310.93 438.12L315.13 438.12L313.03 441.69Z" fill="none" stroke="#98cfc2" stroke-width="0.9"/><path d="M340.66 436.12L344.86 436.12L342.76 439.69Z" fill="none" stroke="#98cfc2" stroke-width="0.9"/><line x1="227.63" y1="434.17" x2="249.78" y2="435.73" stroke="#92589a" stroke-width="1.0"/><line x1="257.37" y1="435.97" x2="279.50" y2="435.83" stroke="#92589a" stroke-width="1.0"/><line x1="287.10" y1="435.90" x2="309.23" y2="436.50" stroke="#92589a" stroke-width="1.0"/><line x1="316.83" y1="436.77" x2="338.96" y2="437.73" stroke="#92589a" stroke-width="1.0"/><path d="M221.74 435.47L225.94 435.47L223.84 431.90Z" fill="none" stroke="#92589a" stroke-width="1.0"/><path d="M251.47 437.57L255.67 437.57L253.57 434.00Z" fill="none" stroke="#92589a" stroke-width="1.0"/><path d="M281.20 437.38L285.40 437.38L283.30 433.81Z" fill="none" stroke="#92589a" stroke-width="1.0"/><path d="M310.93 438.18L315.13 438.18L313.03 434.61Z" fill="none" stroke="#92589a" stroke-width="1.0"/><path d="M340.66 439.47L344.86 439.47L342.76 435.90Z" fill="none" stroke="#92589a" stroke-width="1.0"/><line x1="227.53" y1="411.29" x2="249.88" y2="416.71" stroke="#7d898c" stroke-width="1.0"/><line x1="257.33" y1="418.18" x2="279.54" y2="421.62" stroke="#7d898c" stroke-width="1.0"/><line x1="287.10" y1="422.38" x2="309.23" y2="423.42" stroke="#7d898c" stroke-width="1.0"/><line x1="316.82" y1="423.34" x2="338.97" y2="421.86" stroke="#7d898c" stroke-width="1.0"/><path d="M223.84 407.75L226.24 410.40L223.84 413.05L221.44 410.40Z" fill="#7a8288"/><path d="M253.57 414.95L255.97 417.60L253.57 420.25L251.17 417.60Z" fill="#7a8288"/><path d="M283.30 419.55L285.70 422.20L283.30 424.85L280.90 422.20Z" fill="#7a8288"/><path d="M313.03 420.95L315.43 423.60L313.03 426.25L310.63 423.60Z" fill="#7a8288"/><path d="M342.76 418.95L345.16 421.60L342.76 424.25L340.36 421.60Z" fill="#7a8288"/><line x1="226.09" y1="394.81" x2="251.32" y2="421.79" stroke="#7f5a3a" stroke-width="0.95"/><line x1="256.22" y1="426.16" x2="280.65" y2="444.24" stroke="#7f5a3a" stroke-width="0.95"/><line x1="286.30" y1="447.56" x2="310.03" y2="458.34" stroke="#7f5a3a" stroke-width="0.95"/><line x1="316.32" y1="459.97" x2="339.47" y2="461.83" stroke="#7f5a3a" stroke-width="0.95"/><circle cx="223.84" cy="392.40" r="1.0" fill="#7f5a3a"/><circle cx="253.57" cy="424.20" r="1.0" fill="#7f5a3a"/><circle cx="283.30" cy="446.20" r="1.0" fill="#7f5a3a"/><circle cx="313.03" cy="459.70" r="1.0" fill="#7f5a3a"/><circle cx="342.76" cy="462.10" r="1.0" fill="#7f5a3a"/><rect x="219.25" y="384.57" width="128.15" height="127.78" fill="none" stroke="#525252" stroke-width="1.25"/><line x1="223.84" y1="512.35" x2="223.84" y2="516.85" stroke="#222" stroke-width="1.0"/><text transform="translate(223.84,527.15) rotate(0.04)" font-size="7.3" text-anchor="middle">0.1</text><line x1="253.57" y1="512.35" x2="253.57" y2="516.85" stroke="#222" stroke-width="1.0"/><text transform="translate(253.57,527.15) rotate(0.04)" font-size="7.3" text-anchor="middle">0.2</text><line x1="283.30" y1="512.35" x2="283.30" y2="516.85" stroke="#222" stroke-width="1.0"/><text transform="translate(283.30,527.15) rotate(0.04)" font-size="7.3" text-anchor="middle">0.3</text><line x1="313.03" y1="512.35" x2="313.03" y2="516.85" stroke="#222" stroke-width="1.0"/><text transform="translate(313.03,527.15) rotate(0.04)" font-size="7.3" text-anchor="middle">0.4</text><line x1="342.76" y1="512.35" x2="342.76" y2="516.85" stroke="#222" stroke-width="1.0"/><text transform="translate(342.76,527.15) rotate(0.04)" font-size="7.3" text-anchor="middle">0.5</text><line x1="214.75" y1="499.50" x2="219.25" y2="499.50" stroke="#222" stroke-width="1.0"/><text transform="translate(210.05,499.50) rotate(-89.96)" font-size="7.3" text-anchor="middle" class="yl">0.4</text><line x1="214.75" y1="482.49" x2="219.25" y2="482.49" stroke="#222" stroke-width="1.0"/><text transform="translate(210.05,482.49) rotate(-89.96)" font-size="7.3" text-anchor="middle" class="yl">0.6</text><line x1="214.75" y1="465.49" x2="219.25" y2="465.49" stroke="#222" stroke-width="1.0"/><text transform="translate(210.05,465.49) rotate(-89.96)" font-size="7.3" text-anchor="middle" class="yl">0.8</text><line x1="214.75" y1="448.48" x2="219.25" y2="448.48" stroke="#222" stroke-width="1.0"/><text transform="translate(210.05,448.48) rotate(-89.96)" font-size="7.3" text-anchor="middle" class="yl">1.0</text><line x1="214.75" y1="431.47" x2="219.25" y2="431.47" stroke="#222" stroke-width="1.0"/><text transform="translate(210.05,431.47) rotate(-89.96)" font-size="7.3" text-anchor="middle" class="yl">1.2</text><line x1="214.75" y1="414.47" x2="219.25" y2="414.47" stroke="#222" stroke-width="1.0"/><text transform="translate(210.05,414.47) rotate(-89.96)" font-size="7.3" text-anchor="middle" class="yl">1.4</text><line x1="214.75" y1="397.46" x2="219.25" y2="397.46" stroke="#222" stroke-width="1.0"/><text transform="translate(210.05,397.46) rotate(-89.96)" font-size="7.3" text-anchor="middle" class="yl">1.6</text><text transform="translate(323.20,395.87) rotate(0.04)" font-size="6.6" text-anchor="middle" class="rho">ρ</text><text transform="translate(328.80,395.87) rotate(0.04)" font-size="6.0" text-anchor="middle" class="rho">=</text><text transform="translate(342.50,395.87) rotate(0.04)" font-size="7.1" text-anchor="end" class="rho">0.5</text></g><g><line x1="409.81" y1="448.48" x2="464.48" y2="448.48" stroke="#7f8788" stroke-width="0.9" stroke-dasharray="2.6,2.3"/><line x1="469.28" y1="448.48" x2="523.95" y2="448.48" stroke="#7f8788" stroke-width="0.9" stroke-dasharray="2.6,2.3"/><line x1="411.21" y1="446.70" x2="463.08" y2="446.70" stroke="#a8c4bf" stroke-width="0.8"/><line x1="470.68" y1="446.70" x2="522.55" y2="446.70" stroke="#a8c4bf" stroke-width="0.8"/><rect x="405.66" y="444.95" width="3.5" height="3.5" fill="none" stroke="#92979b" stroke-width="0.9"/><rect x="465.13" y="444.95" width="3.5" height="3.5" fill="none" stroke="#92979b" stroke-width="0.9"/><rect x="524.60" y="444.95" width="3.5" height="3.5" fill="none" stroke="#92979b" stroke-width="0.9"/><line x1="411.20" y1="439.96" x2="463.09" y2="443.54" stroke="#98cfc2" stroke-width="0.9"/><line x1="470.67" y1="443.60" x2="522.56" y2="440.90" stroke="#98cfc2" stroke-width="0.9"/><path d="M405.31 438.12L409.51 438.12L407.41 441.69Z" fill="none" stroke="#98cfc2" stroke-width="0.9"/><path d="M464.78 442.23L468.98 442.23L466.88 445.80Z" fill="none" stroke="#98cfc2" stroke-width="0.9"/><path d="M524.25 439.12L528.45 439.12L526.35 442.69Z" fill="none" stroke="#98cfc2" stroke-width="0.9"/><line x1="411.20" y1="423.26" x2="463.09" y2="426.84" stroke="#92589a" stroke-width="1.0"/><line x1="470.68" y1="427.19" x2="522.55" y2="428.41" stroke="#92589a" stroke-width="1.0"/><path d="M405.31 424.57L409.51 424.57L407.41 421.00Z" fill="none" stroke="#92589a" stroke-width="1.0"/><path d="M464.78 428.68L468.98 428.68L466.88 425.11Z" fill="none" stroke="#92589a" stroke-width="1.0"/><path d="M524.25 430.07L528.45 430.07L526.35 426.50Z" fill="none" stroke="#92589a" stroke-width="1.0"/><line x1="411.17" y1="410.83" x2="463.12" y2="418.17" stroke="#7d898c" stroke-width="1.0"/><line x1="470.68" y1="418.70" x2="522.55" y2="418.70" stroke="#7d898c" stroke-width="1.0"/><path d="M407.41 407.65L409.81 410.30L407.41 412.95L405.01 410.30Z" fill="#7a8288"/><path d="M466.88 416.05L469.28 418.70L466.88 421.35L464.48 418.70Z" fill="#7a8288"/><path d="M526.35 416.05L528.75 418.70L526.35 421.35L523.95 418.70Z" fill="#7a8288"/><line x1="410.41" y1="407.36" x2="463.88" y2="431.64" stroke="#7f5a3a" stroke-width="0.95"/><line x1="470.15" y1="433.42" x2="523.08" y2="440.28" stroke="#7f5a3a" stroke-width="0.95"/><circle cx="407.41" cy="406.00" r="1.0" fill="#7f5a3a"/><circle cx="466.88" cy="433.00" r="1.0" fill="#7f5a3a"/><circle cx="526.35" cy="440.70" r="1.0" fill="#7f5a3a"/><rect x="402.56" y="384.57" width="128.04" height="127.78" fill="none" stroke="#525252" stroke-width="1.25"/><line x1="407.41" y1="512.35" x2="407.41" y2="516.85" stroke="#222" stroke-width="1.0"/><text transform="translate(407.41,527.15) rotate(0.04)" font-size="7.3" text-anchor="middle">0.1</text><line x1="466.88" y1="512.35" x2="466.88" y2="516.85" stroke="#222" stroke-width="1.0"/><text transform="translate(466.88,527.15) rotate(0.04)" font-size="7.3" text-anchor="middle">0.2</text><line x1="526.35" y1="512.35" x2="526.35" y2="516.85" stroke="#222" stroke-width="1.0"/><text transform="translate(526.35,527.15) rotate(0.04)" font-size="7.3" text-anchor="middle">0.3</text><line x1="398.06" y1="499.50" x2="402.56" y2="499.50" stroke="#222" stroke-width="1.0"/><text transform="translate(393.36,499.50) rotate(-89.96)" font-size="7.3" text-anchor="middle" class="yl">0.4</text><line x1="398.06" y1="482.49" x2="402.56" y2="482.49" stroke="#222" stroke-width="1.0"/><text transform="translate(393.36,482.49) rotate(-89.96)" font-size="7.3" text-anchor="middle" class="yl">0.6</text><line x1="398.06" y1="465.49" x2="402.56" y2="465.49" stroke="#222" stroke-width="1.0"/><text transform="translate(393.36,465.49) rotate(-89.96)" font-size="7.3" text-anchor="middle" class="yl">0.8</text><line x1="398.06" y1="448.48" x2="402.56" y2="448.48" stroke="#222" stroke-width="1.0"/><text transform="translate(393.36,448.48) rotate(-89.96)" font-size="7.3" text-anchor="middle" class="yl">1.0</text><line x1="398.06" y1="431.47" x2="402.56" y2="431.47" stroke="#222" stroke-width="1.0"/><text transform="translate(393.36,431.47) rotate(-89.96)" font-size="7.3" text-anchor="middle" class="yl">1.2</text><line x1="398.06" y1="414.47" x2="402.56" y2="414.47" stroke="#222" stroke-width="1.0"/><text transform="translate(393.36,414.47) rotate(-89.96)" font-size="7.3" text-anchor="middle" class="yl">1.4</text><line x1="398.06" y1="397.46" x2="402.56" y2="397.46" stroke="#222" stroke-width="1.0"/><text transform="translate(393.36,397.46) rotate(-89.96)" font-size="7.3" text-anchor="middle" class="yl">1.6</text><text transform="translate(506.40,395.87) rotate(0.04)" font-size="6.6" text-anchor="middle" class="rho">ρ</text><text transform="translate(512.00,395.87) rotate(0.04)" font-size="6.0" text-anchor="middle" class="rho">=</text><text transform="translate(525.70,395.87) rotate(0.04)" font-size="7.1" text-anchor="end" class="rho">0.5</text></g><text transform="translate(99.97,10.60) rotate(0.04)" font-size="8.4" text-anchor="middle" class="ti">p<tspan font-size="5.4" dy="1.4">3</tspan><tspan dy="-1.4" dx="0"> = 0.1</tspan></text><text transform="translate(99.97,542.00) rotate(0.04)" font-size="7.2" text-anchor="middle">p<tspan font-size="5.7" dy="1.7">2</tspan></text><text transform="translate(283.32,10.60) rotate(0.04)" font-size="8.4" text-anchor="middle" class="ti">p<tspan font-size="5.4" dy="1.4">3</tspan><tspan dy="-1.4" dx="0"> = 0.4</tspan></text><text transform="translate(283.32,542.00) rotate(0.04)" font-size="7.2" text-anchor="middle">p<tspan font-size="5.7" dy="1.7">2</tspan></text><text transform="translate(466.58,10.60) rotate(0.04)" font-size="8.4" text-anchor="middle" class="ti">p<tspan font-size="5.4" dy="1.4">3</tspan><tspan dy="-1.4" dx="0"> = 0.6</tspan></text><text transform="translate(466.58,542.00) rotate(0.04)" font-size="7.2" text-anchor="middle">p<tspan font-size="5.7" dy="1.7">2</tspan></text><text transform="translate(10.70,81.59) rotate(-89.96)" font-size="7.0" text-anchor="middle">Relative Efficiency</text><text transform="translate(10.70,265.12) rotate(-89.96)" font-size="7.0" text-anchor="middle">Relative Efficiency</text><text transform="translate(10.70,448.46) rotate(-89.96)" font-size="7.0" text-anchor="middle">Relative Efficiency</text></svg>
</body></html>
